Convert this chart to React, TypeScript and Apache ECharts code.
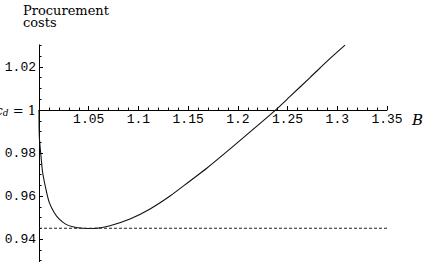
import React, { useEffect, useRef } from 'react';
import * as echarts from 'echarts';

// B (horizontal) and procurement costs (vertical)
const bValues = [1.0, 1.0003, 1.002, 1.0037, 1.007, 1.0104, 1.0154, 1.0204, 1.0272, 1.0339, 1.044, 1.0543, 1.0714, 1.0915, 1.1117, 1.1318, 1.1519, 1.1687, 1.1922, 1.2123, 1.2384, 1.2525, 1.2726, 1.2928, 1.3078];
const costValues = [1.0, 0.9879, 0.9786, 0.9708, 0.9631, 0.9569, 0.9522, 0.9492, 0.9468, 0.9457, 0.945, 0.9449, 0.9462, 0.9493, 0.954, 0.96, 0.967, 0.9729, 0.9819, 0.9898, 1.0002, 1.0063, 1.0151, 1.024, 1.0302];
const minCostLevel = 0.945;
const bRange = [1, 1.35];
const xTickLabels = ['1.05', '1.1', '1.15', '1.2', '1.25', '1.3', '1.35'];
const yTickLabels = ['0.94', '0.96', '0.98', '1.02'];

export default function App() {
  const ref = useRef<HTMLDivElement>(null);
  useEffect(() => {
    const chart = echarts.init(ref.current!, null, { renderer: 'svg' });
    const curve = bValues.map((b, i) => [b, costValues[i]]);
    const dashed = bRange.map((b) => [b, minCostLevel]);
    const mono = 'Liberation Mono';
    const serif = 'DejaVu Serif';
    chart.setOption({
      animation: false,
      backgroundColor: '#fff',
      grid: { left: 39, top: 24, width: 348, height: 258, outerBoundsMode: 'none', containLabel: false },
      title: {
        text: 'Procurement\ncosts',
        left: 23,
        top: 4,
        padding: 0,
        z: 10,
        textStyle: { fontFamily: serif, fontSize: 13, fontWeight: 'normal', color: '#000', lineHeight: 12 },
      },
      graphic: [
        { type: 'rect', z: 5, shape: { x: 34, y: 18, width: 12, height: 26.5 }, style: { fill: '#fff' } },
      ],
      xAxis: {
        type: 'value',
        min: bRange[0],
        max: bRange[1],
        interval: 0.05,
        position: 'bottom',
        offset: -172,
        axisLine: { onZero: false, lineStyle: { color: '#000', width: 1 } },
        axisTick: { inside: true, length: 4, lineStyle: { color: '#000' } },
        minorTick: { show: true, splitNumber: 5, length: 2.5, lineStyle: { color: '#000' } },
        splitLine: { show: false },
        minorSplitLine: { show: false },
        axisLabel: {
          margin: 3,
          fontFamily: mono,
          fontSize: 13,
          color: '#000',
          formatter: (v: number) => {
            const s = String(+v.toFixed(2));
            return xTickLabels.includes(s) ? s : '';
          },
        },
        name: 'B',
        nameLocation: 'end',
        nameGap: 25,
        nameTextStyle: { fontFamily: serif, fontStyle: 'italic', fontSize: 15, color: '#000', verticalAlign: 'top', padding: [2, 0, 0, 0] },
      },
      yAxis: {
        type: 'value',
        min: 0.92,
        max: 1.04,
        interval: 0.02,
        axisLine: { show: true, onZero: false, lineStyle: { color: '#000', width: 1 } },
        axisTick: { show: true, inside: true, length: 4, lineStyle: { color: '#000' } },
        minorTick: { show: true, splitNumber: 4, length: 2.5, lineStyle: { color: '#000' } },
        splitLine: { show: false },
        minorSplitLine: { show: false },
        axisLabel: {
          margin: 3,
          fontFamily: mono,
          fontSize: 13,
          color: '#000',
          formatter: (v: number) => {
            const s = String(+v.toFixed(2));
            if (s === '1') return '{c|c}{d|d}{e| = 1}';
            return yTickLabels.includes(s) ? s : '';
          },
          rich: {
            c: { fontFamily: serif, fontStyle: 'italic', fontSize: 13, color: '#000' },
            d: { fontFamily: serif, fontStyle: 'italic', fontSize: 9, color: '#000', padding: [6, 0, 0, 0] },
            e: { fontFamily: serif, fontSize: 13, color: '#000' },
          },
        },
      },
      series: [
        {
          type: 'line',
          data: curve,
          showSymbol: false,
          smooth: 0.3,
          lineStyle: { color: '#111', width: 1.1 },
        },
        {
          type: 'line',
          data: dashed,
          showSymbol: false,
          lineStyle: { color: '#222', width: 1, type: [3, 2] },
        },
      ],
    });
    return () => chart.dispose();
  }, []);
  return <div ref={ref} style={{ position: 'absolute', left: 0, top: 0, width: 426, height: 262 }} />;
}
